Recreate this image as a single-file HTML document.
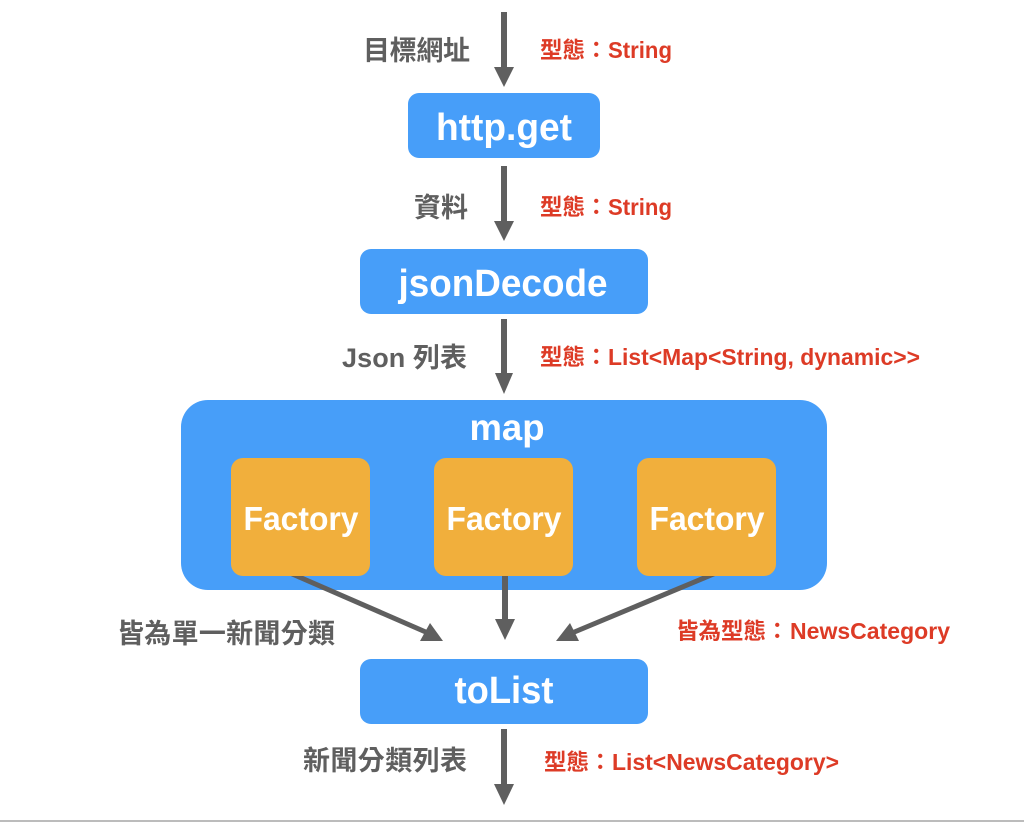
<!DOCTYPE html>
<html><head><meta charset="utf-8"><style>
html,body{margin:0;padding:0;background:#fff;width:1024px;height:822px;overflow:hidden}
svg{display:block}
text{font-family:"Liberation Sans","Noto Sans CJK TC",sans-serif;font-weight:700}
.w{fill:#fff;text-anchor:middle}
.g{fill:#5f5f5f;font-size:27px}
.r{fill:#dd3b26;font-size:22.5px}
.n{fill:#dd3b26;font-size:23.5px}
.b{fill:#479ef9}
.o{fill:#f1af3c}
.a{fill:#5f5f5f}
.l{stroke:#5f5f5f;stroke-width:6;fill:none}
.d{stroke:#5f5f5f;stroke-width:5;fill:none}
</style></head><body>
<svg width="1024" height="822" viewBox="0 0 1024 822" xmlns="http://www.w3.org/2000/svg">
<rect x="0" y="820" width="1024" height="2" fill="#bcbcbc"/>

<rect class="b" x="408" y="93" width="192" height="65" rx="11"/>
<rect class="b" x="360" y="249" width="288" height="65" rx="11"/>
<rect class="b" x="181" y="400" width="646" height="190" rx="27"/>

<path class="l" d="M505 570V620"/><path class="a" d="M495 619H515L505 640Z"/>
<path class="d" d="M290 573L428 633"/><path class="a" d="M430 623L420 641H443Z"/>
<path class="d" d="M716 573L572 633"/><path class="a" d="M570 623L579 641H556Z"/>

<rect class="o" x="231" y="458" width="139" height="118" rx="12"/>
<rect class="o" x="434" y="458" width="139" height="118" rx="12"/>
<rect class="o" x="637" y="458" width="139" height="118" rx="12"/>
<rect class="b" x="360" y="659" width="288" height="65" rx="11"/>

<path class="l" d="M504 12V68"/><path class="a" d="M494 67H514L504 87Z"/>
<path class="l" d="M504 166V222"/><path class="a" d="M494 221H514L504 241Z"/>
<path class="l" d="M504 319V374"/><path class="a" d="M495 373H513L504 394Z"/>
<path class="l" d="M504 729V785"/><path class="a" d="M494 784H514L504 805Z"/>

<text class="w" x="504" y="140" font-size="38" textLength="136" lengthAdjust="spacingAndGlyphs">http.get</text>
<text class="w" x="503" y="296" font-size="38" textLength="209" lengthAdjust="spacingAndGlyphs">jsonDecode</text>
<text class="w" x="507" y="440" font-size="37" textLength="75" lengthAdjust="spacingAndGlyphs">map</text>
<text class="w" x="301" y="530" font-size="33" textLength="115" lengthAdjust="spacingAndGlyphs">Factory</text>
<text class="w" x="504" y="530" font-size="33" textLength="115" lengthAdjust="spacingAndGlyphs">Factory</text>
<text class="w" x="707" y="530" font-size="33" textLength="115" lengthAdjust="spacingAndGlyphs">Factory</text>
<text class="w" x="504" y="703" font-size="38" textLength="99" lengthAdjust="spacingAndGlyphs">toList</text>

<text class="g" x="363" y="60" textLength="107">目標網址</text>
<text class="g" x="414" y="217" textLength="54">資料</text>
<text class="g" x="342" y="367" textLength="125">Json 列表</text>
<text class="g" x="117" y="643" textLength="218">皆為單一新聞分類</text>
<text class="g" x="303" y="770" textLength="164">新聞分類列表</text>

<text class="r" x="540" y="58">型態：</text>
<text class="n" x="608" y="58" textLength="64" lengthAdjust="spacingAndGlyphs">String</text>
<text class="r" x="540" y="215">型態：</text>
<text class="n" x="608" y="215" textLength="64" lengthAdjust="spacingAndGlyphs">String</text>
<text class="r" x="540" y="365">型態：</text>
<text class="n" x="608" y="365" textLength="312" lengthAdjust="spacingAndGlyphs">List&lt;Map&lt;String, dynamic&gt;&gt;</text>
<text class="r" x="676" y="639">皆為型態：</text>
<text class="n" x="790" y="639" textLength="160" lengthAdjust="spacingAndGlyphs">NewsCategory</text>
<text class="r" x="544" y="770">型態：</text>
<text class="n" x="612" y="770" textLength="227" lengthAdjust="spacingAndGlyphs">List&lt;NewsCategory&gt;</text>
</svg>
</body></html>
